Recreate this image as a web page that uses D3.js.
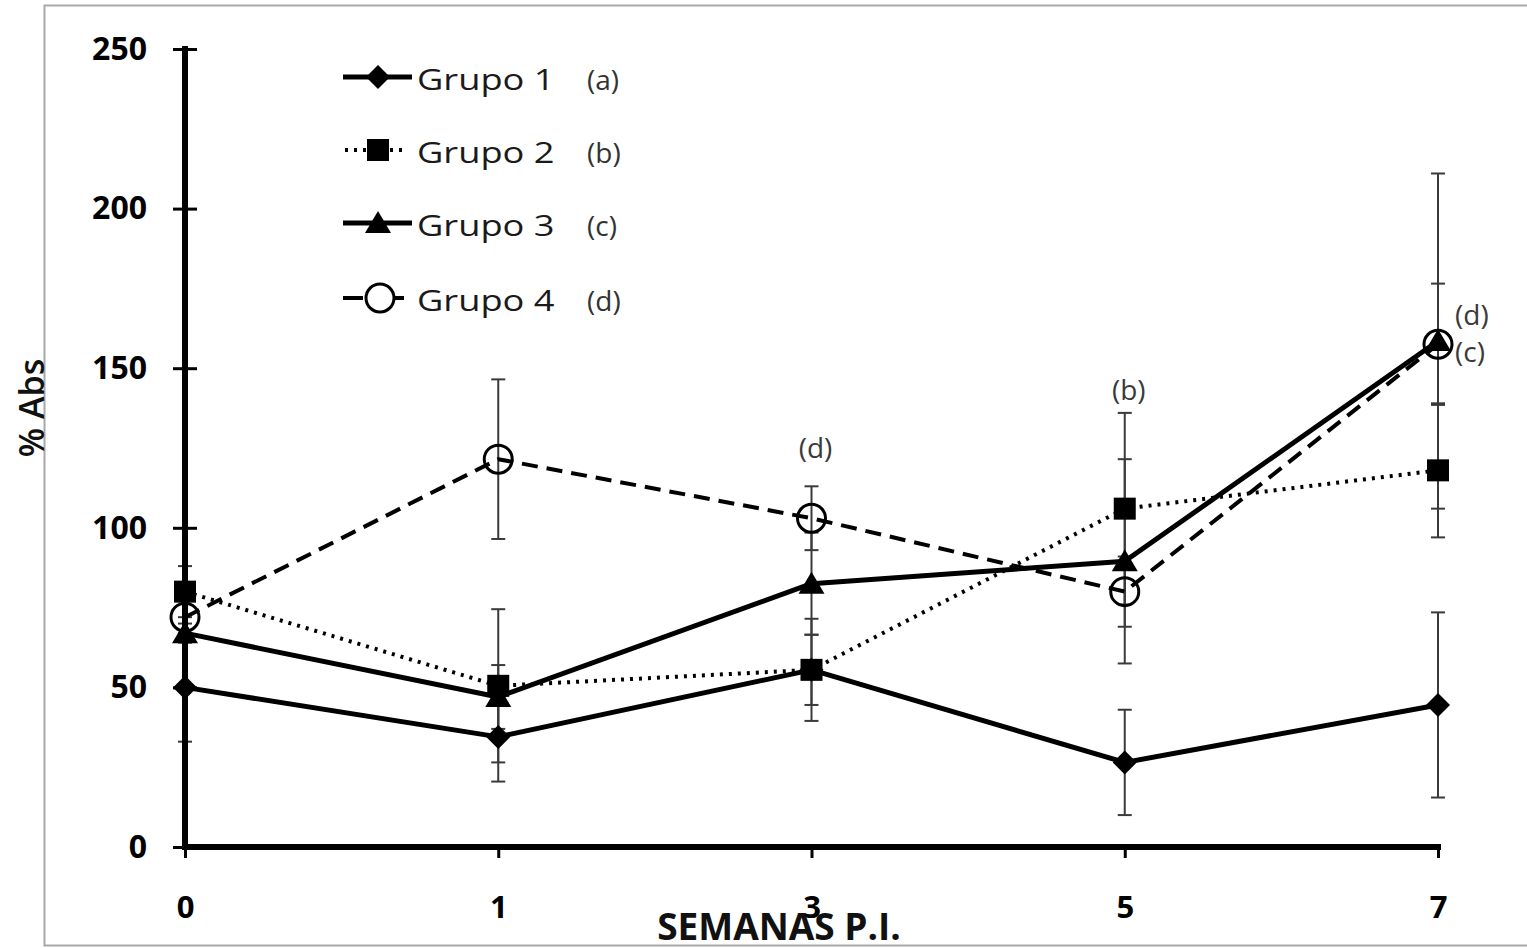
<!DOCTYPE html>
<html><head><meta charset="utf-8">
<script src="https://cdn.jsdelivr.net/npm/d3@7"></script>
<style>body{margin:0;background:#fff}</style>
</head><body><svg id="c" width="1527" height="948"></svg>
<script>
const xLabels = ["0", "1", "3", "5", "7"];
const yTicks = [0, 50, 100, 150, 200, 250];
const seriesNames = ["Grupo 1", "Grupo 2", "Grupo 3", "Grupo 4"];
const legendTags = ["(a)", "(b)", "(c)", "(d)"];
const g1 = [50, 34.5, 55.5, 26.5, 44.5];
const g1Err = [17, 14, 16, 16.5, 29];
const g2 = [80, 50.5, 55.5, 106, 118];
const g2Err = [8, 24, 11, 30, 21];
const g3 = [67, 47, 82.5, 89.5, 158.5];
const g3Err = [3, 10, 16, 32, 52.5];
const g4 = [72, 121.5, 103, 80, 157.5];
const g4Err = [5, 25, 10, 11, 19];
const annText = ["(d)", "(b)", "(d)", "(c)"];
const annX = ["3", "5", "7", "7"];
const annY = [122, 140, 163.5, 152];

const svg = d3.select("#c");
const x = d3.scalePoint().domain(xLabels).range([185, 1438]);
const y = d3.scaleLinear().domain([0, 250]).range([847, 49]);

// frame
svg.append("rect").attr("x", 44.5).attr("y", 5.5).attr("width", 1500).attr("height", 940)
  .attr("fill", "none").attr("stroke", "#a8a8a8").attr("stroke-width", 2);

const series = [
  {name: seriesNames[0], v: g1, e: g1Err, dash: null, w: 5, marker: "diamond"},
  {name: seriesNames[1], v: g2, e: g2Err, dash: "3,6", w: 4, marker: "square"},
  {name: seriesNames[2], v: g3, e: g3Err, dash: null, w: 5, marker: "triangle"},
  {name: seriesNames[3], v: g4, e: g4Err, dash: "16,9", w: 4, marker: "circle"}
];

function drawMarker(g, type, cx, cy) {
  if (type === "diamond") {
    g.append("path").attr("d", "M0,-12L12,0L0,12L-12,0Z").attr("transform", `translate(${cx},${cy})`).attr("fill", "#000");
  } else if (type === "square") {
    g.append("rect").attr("x", cx - 11).attr("y", cy - 11).attr("width", 22).attr("height", 22).attr("fill", "#000");
  } else if (type === "triangle") {
    g.append("path").attr("d", "M0,-12L13,10L-13,10Z").attr("transform", `translate(${cx},${cy})`).attr("fill", "#000");
  } else {
    g.append("circle").attr("cx", cx).attr("cy", cy).attr("r", 14).attr("fill", "none").attr("stroke", "#000").attr("stroke-width", 3);
  }
}

// error bars
const eb = svg.append("g").attr("stroke", "#3a3a3a").attr("stroke-width", 2);
series.forEach(s => {
  xLabels.forEach((xl, i) => {
    const cx = x(xl), hi = y(s.v[i] + s.e[i]), lo = y(Math.max(0, s.v[i] - s.e[i]));
    eb.append("line").attr("x1", cx).attr("x2", cx).attr("y1", hi).attr("y2", lo);
    eb.append("line").attr("x1", cx - 7).attr("x2", cx + 7).attr("y1", hi).attr("y2", hi);
    eb.append("line").attr("x1", cx - 7).attr("x2", cx + 7).attr("y1", lo).attr("y2", lo);
  });
});

// axes
const yAxis = svg.append("g").attr("transform", "translate(185,0)")
  .call(d3.axisLeft(y).tickValues(yTicks).tickSize(12).tickPadding(26));
yAxis.select(".domain").attr("stroke-width", 6).attr("d", "M0,46V850");
yAxis.selectAll(".tick line").attr("x1", 12).attr("x2", -12).attr("stroke-width", 3);
yAxis.selectAll("text").attr("font-family", "Open Sans").attr("font-weight", "bold").attr("font-size", 32).attr("fill", "#000");

const xAxis = svg.append("g").attr("transform", "translate(0,847)")
  .call(d3.axisBottom(x).tickSize(11).tickPadding(38));
xAxis.select(".domain").attr("stroke-width", 6).attr("d", "M182,0H1441");
xAxis.selectAll(".tick line").attr("stroke-width", 3);
xAxis.selectAll("text").attr("font-family", "Open Sans").attr("font-weight", "bold").attr("font-size", 31).attr("fill", "#000");

// lines
const line = d3.line().x((d, i) => x(xLabels[i])).y(d => y(d));
series.forEach(s => {
  svg.append("path").datum(s.v).attr("d", line).attr("fill", "none").attr("stroke", "#000")
    .attr("stroke-width", s.w).attr("stroke-dasharray", s.dash).attr("stroke-linejoin", "round");
});
// markers
series.forEach(s => {
  const g = svg.append("g");
  s.v.forEach((v, i) => drawMarker(g, s.marker, x(xLabels[i]), y(v)));
});

// annotations
annText.forEach((t, i) => {
  const right = annX[i] === "7";
  svg.append("text").attr("x", right ? x(annX[i]) + 17 : x(annX[i]) + 4).attr("y", y(annY[i]))
    .attr("text-anchor", right ? "start" : "middle")
    .attr("font-family", "Open Sans").attr("font-size", 28).attr("fill", "#3a3a3a").text(t);
});

// legend
const rowY = [77, 150, 223, 298];
series.forEach((s, i) => {
  const g = svg.append("g");
  const ry = rowY[i];
  if (i === 1) {
    g.append("line").attr("x1", 345).attr("x2", 408).attr("y1", ry).attr("y2", ry).attr("stroke", "#000").attr("stroke-width", 4).attr("stroke-dasharray", "3,6");
  } else if (i === 3) {
    g.append("line").attr("x1", 343).attr("x2", 404).attr("y1", ry).attr("y2", ry).attr("stroke", "#000").attr("stroke-width", 4).attr("stroke-dasharray", "20,32");
  } else {
    g.append("line").attr("x1", 343).attr("x2", 412).attr("y1", ry).attr("y2", ry).attr("stroke", "#000").attr("stroke-width", 5);
  }
  drawMarker(g, s.marker, i === 3 ? 380 : 378, ry);
  g.append("text").attr("transform", `translate(417,${ry + 13}) scale(1.25,1)`).attr("font-family", "Open Sans").attr("font-size", 29)
    .attr("fill", "#1a1a1a").text(s.name);
  g.append("text").attr("x", 587).attr("y", ry + 13).attr("font-family", "Open Sans").attr("font-size", 28)
    .attr("fill", "#333").text(legendTags[i]);
});

// axis titles
svg.append("text").attr("transform", "translate(44,408) rotate(-90)").attr("text-anchor", "middle")
  .attr("font-family", "Open Sans").attr("font-weight", 600).attr("font-size", 34).attr("fill", "#111").text("% Abs");
svg.append("text").attr("x", 779).attr("y", 940).attr("text-anchor", "middle")
  .attr("font-family", "Open Sans").attr("font-weight", "bold").attr("font-size", 37).attr("fill", "#111").text("SEMANAS P.I.");
</script></body></html>
